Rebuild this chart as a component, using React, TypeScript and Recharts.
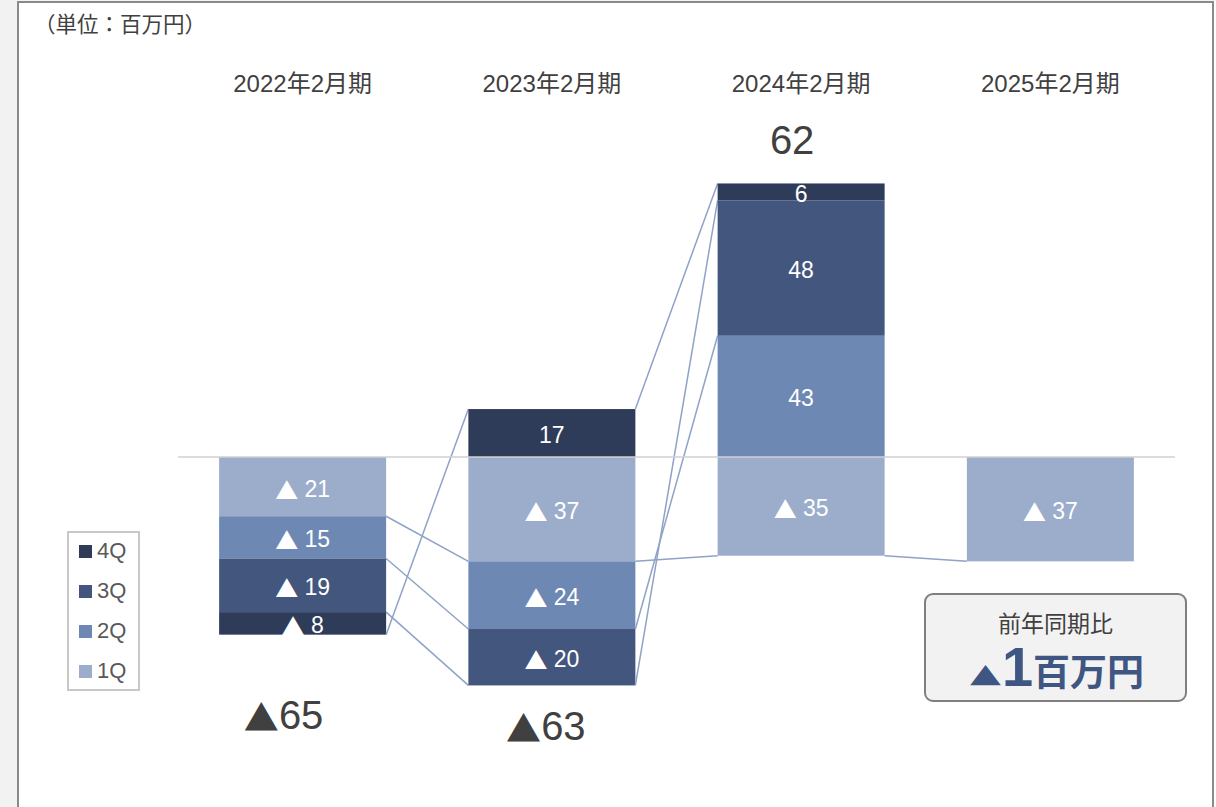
import React from 'react';
import { BarChart, Bar, XAxis, YAxis, ReferenceLine, ReferenceDot, LabelList, Legend } from 'recharts';

// ---- data ----
const periods = ['2022年2月期', '2023年2月期', '2024年2月期', '2025年2月期'];
const q1: (number | null)[] = [-21, -37, -35, -37];
const q2: (number | null)[] = [-15, -24, 43, null];
const q3: (number | null)[] = [-19, -20, 48, null];
const q4: (number | null)[] = [-8, 17, 6, null];
const totals: (number | null)[] = [-65, -63, 62, null];
const seriesNames = ['1Q', '2Q', '3Q', '4Q'];
const seriesKeys = ['q1', 'q2', 'q3', 'q4'];
const seriesColors = ['#9cadcb', '#6e88b4', '#43567e', '#2e3c59'];
const unitLabel = '（単位：百万円）';
const yoyTitle = '前年同期比';
const yoyValue = -1;
const yoyUnit = '百万円';

// ---- layout / style ----
const FONT = "'Liberation Sans', Arial, 'Noto Sans CJK JP', sans-serif";
const CJK = "'Noto Sans CJK JP', sans-serif";
const GAP = 0.165;
const TEXT = '#404040';
const LINE = '#8fa2c7';
// pixel nudges of the total annotations relative to the stack extreme
const totalNudge = [
  { dx: -19, dy: 80 },
  { dx: -6, dy: 41 },
  { dx: -9, dy: -43 },
  { dx: 0, dy: 0 },
];

const seriesValues = [q1, q2, q3, q4];

const data = periods.map((p, i) => {
  const row: any = { period: p };
  seriesKeys.forEach((k, s) => {
    row[k] = seriesValues[s][i];
  });
  return row;
});

// end of stacked segment (farthest from zero) for series s at period i
function stackEnd(s: number, i: number): number | null {
  const v = seriesValues[s][i];
  if (v == null) return null;
  let sum = 0;
  for (let t = 0; t <= s; t++) {
    const w = seriesValues[t][i];
    if (w != null && Math.sign(w) === Math.sign(v)) sum += w;
  }
  return sum;
}

function stackExtreme(i: number, positive: boolean): number {
  let ext = 0;
  for (let s = 0; s < seriesValues.length; s++) {
    const e = stackEnd(s, i);
    if (e == null) continue;
    if (positive ? e > ext : e < ext) ext = e;
  }
  return ext;
}

// bar segment + the series line to the same series in the next period
const makeShape = (s: number) => (props: any) => {
  const { x, y, width, height, index } = props;
  const v = seriesValues[s][index];
  if (v == null || !width || !height) return <g />;
  const top = Math.min(y, y + height);
  const bot = Math.max(y, y + height);
  const k = (bot - top) / Math.abs(v);
  const e1 = stackEnd(s, index) as number;
  const farY = v < 0 ? bot : top;
  const zeroY = farY + e1 * k;
  const e2 = index + 1 < periods.length ? stackEnd(s, index + 1) : null;
  let line = null;
  if (e2 != null) {
    const band = width / (1 - 2 * GAP);
    line = (
      <line
        x1={x + width}
        y1={farY}
        x2={x + band}
        y2={zeroY - e2 * k}
        stroke={LINE}
        strokeWidth={1.5}
      />
    );
  }
  return (
    <g>
      <rect x={x} y={top} width={width} height={bot - top} fill={seriesColors[s]} />
      {line}
    </g>
  );
};

const TriText = (props: any) => {
  const { v, space, triSize, ...rest } = props;
  return (
    <text {...rest}>
      {v < 0 ? (
        <tspan fontFamily={CJK} fontSize={triSize || rest.fontSize}>
          ▲
        </tspan>
      ) : null}
      <tspan>{(v < 0 && space ? ' ' : '') + Math.abs(v)}</tspan>
    </text>
  );
};

const BarLabel = (props: any) => {
  const { value } = props;
  if (value == null || value === 0) return null;
  const vb = props.viewBox || props;
  const cx = vb.x + vb.width / 2;
  const cy = vb.y + vb.height / 2 + 2;
  return (
    <TriText
      v={value}
      space
      x={cx}
      y={cy}
      textAnchor="middle"
      dominantBaseline="central"
      fill="#ffffff"
      fontSize={23}
    />
  );
};

const CatTick = (props: any) => {
  const { x, y, payload } = props;
  return (
    <text x={x} y={y - 6.5} textAnchor="middle" dominantBaseline="central" fill={TEXT} fontSize={24}>
      {payload.value}
    </text>
  );
};

const LegendBox = (props: any) => {
  const items = [...(props.payload || [])].reverse();
  return (
    <div
      style={{
        boxSizing: 'border-box',
        width: 73,
        height: 160,
        border: '2px solid #c8c8c8',
        background: '#ffffff',
      }}
    >
      <div style={{ marginTop: -2 }}>
        {items.map((it: any) => (
          <div key={it.value} style={{ display: 'flex', alignItems: 'center', height: 40, paddingLeft: 10 }}>
            <span
              style={{ width: 13, height: 13, background: it.color, display: 'inline-block', marginRight: 5, flex: 'none' }}
            />
            <span style={{ fontSize: 22, color: '#595959', lineHeight: '22px' }}>{it.value}</span>
          </div>
        ))}
      </div>
    </div>
  );
};

export default function App() {
  return (
    <div
      style={{
        position: 'absolute',
        left: 0,
        top: 0,
        width: 1216,
        height: 807,
        overflow: 'hidden',
        background: '#ffffff',
        fontFamily: FONT,
      }}
    >
      <div style={{ position: 'absolute', left: 0, top: 0, width: 17, height: 807, background: '#f2f2f2' }} />
      <div style={{ position: 'absolute', left: 0, top: 0, width: 1216, height: 1, background: '#f2f2f2' }} />
      <div
        style={{
          position: 'absolute',
          left: 17,
          top: 1,
          width: 1197,
          height: 900,
          boxSizing: 'border-box',
          border: '2px solid #8a8a8a',
        }}
      />
      <div style={{ position: 'absolute', left: 34, top: 11, fontSize: 21.5, lineHeight: '28px', color: TEXT }}>
        {unitLabel}
      </div>

      <BarChart
        width={1216}
        height={807}
        data={data}
        stackOffset="sign"
        barCategoryGap={`${GAP * 100}%`}
        margin={{ top: 60.4, right: 41, bottom: 39.8, left: 178 }}
        style={{ position: 'absolute', left: 0, top: 0, fontFamily: FONT }}
      >
        <XAxis
          dataKey="period"
          orientation="top"
          axisLine={false}
          tickLine={false}
          tickSize={0}
          tickMargin={0}
          height={30}
          interval={0}
          tick={<CatTick />}
        />
        <YAxis hide domain={[-110, 130]} allowDataOverflow />
        <Legend
          layout="horizontal"
          verticalAlign="middle"
          align="center"
          wrapperStyle={{ position: 'absolute', left: 67, top: 531, width: 73, height: 160 }}
          content={<LegendBox />}
        />
        {seriesKeys.map((k, s) => (
          <Bar
            key={k}
            dataKey={k}
            name={seriesNames[s]}
            stackId="a"
            fill={seriesColors[s]}
            shape={makeShape(s)}
            isAnimationActive={false}
          >
            <LabelList dataKey={k} content={<BarLabel />} />
          </Bar>
        ))}
        <ReferenceLine y={0} stroke="#d0d0d0" strokeWidth={1.5} />
        {totals.map((t, i) => {
          if (t == null) return null;
          const ext = stackExtreme(i, t > 0);
          const nd = totalNudge[i];
          return (
            <ReferenceDot
              key={'t' + i}
              x={periods[i]}
              y={ext}
              r={0}
              ifOverflow="visible"
              shape={(p: any) => (
                <TriText
                  v={t}
                  x={p.cx + nd.dx}
                  y={p.cy + nd.dy}
                  textAnchor="middle"
                  dominantBaseline="central"
                  fill={TEXT}
                  fontSize={40}
                  triSize={35}
                />
              )}
            />
          );
        })}
      </BarChart>

      <div
        style={{
          position: 'absolute',
          left: 924,
          top: 593,
          width: 263,
          height: 109,
          boxSizing: 'border-box',
          border: '2px solid #7f7f7f',
          borderRadius: 9,
          background: '#f2f2f2',
        }}
      >
        <div
          style={{
            position: 'absolute',
            left: 0,
            right: 0,
            top: 15,
            textAlign: 'center',
            fontSize: 23,
            lineHeight: '28px',
            color: TEXT,
          }}
        >
          {yoyTitle}
        </div>
        <div
          style={{
            position: 'absolute',
            left: 0,
            right: 0,
            top: 44,
            paddingLeft: 6,
            display: 'flex',
            justifyContent: 'center',
            alignItems: 'baseline',
            color: '#3f5683',
            fontWeight: 700,
            lineHeight: 1,
          }}
        >
          <span
            style={{
              fontSize: 25,
              fontFamily: CJK,
              transform: 'scaleX(1.3)',
              display: 'inline-block',
              marginRight: 2,
            }}
          >
            {yoyValue < 0 ? '▲' : ''}
          </span>
          <span style={{ fontSize: 56, marginLeft: 2 }}>{Math.abs(yoyValue)}</span>
          <span style={{ fontSize: 37 }}>{yoyUnit}</span>
        </div>
      </div>
    </div>
  );
}
